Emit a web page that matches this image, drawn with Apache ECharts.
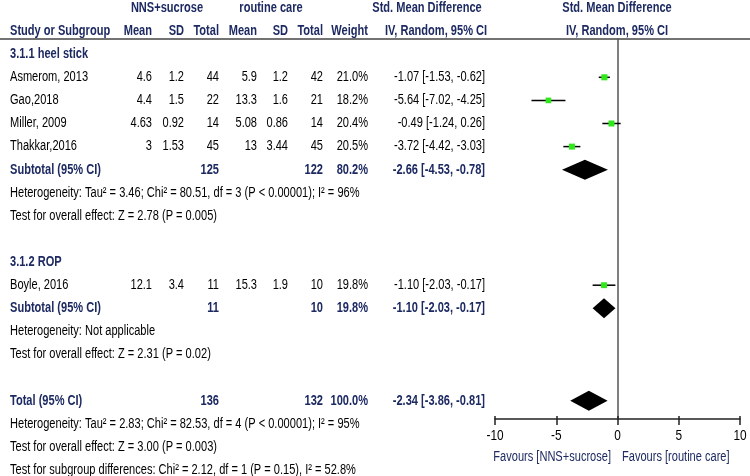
<!DOCTYPE html>
<html><head><meta charset="utf-8">
<script src="https://cdn.jsdelivr.net/npm/echarts@6/dist/echarts.min.js"></script>
<style>html,body{margin:0;padding:0;background:#fff}#c{width:750px;height:476px}</style>
</head><body><div id="c"></div>
<script>
// ---------- data ----------
const studies   = ['Asmerom, 2013', 'Gao,2018', 'Miller, 2009', 'Thakkar,2016', 'Boyle, 2016'];
const nnsMean   = [4.6, 4.4, 4.63, 3, 12.1];
const nnsSD     = [1.2, 1.5, 0.92, 1.53, 3.4];
const nnsN      = [44, 22, 14, 45, 11];
const rcMean    = [5.9, 13.3, 5.08, 13, 15.3];
const rcSD      = [1.2, 1.6, 0.86, 3.44, 1.9];
const rcN       = [42, 21, 14, 45, 10];
const weights   = [21.0, 18.2, 20.4, 20.5, 19.8];
const smd       = [-1.07, -5.64, -0.49, -3.72, -1.10];
const ciLow     = [-1.53, -7.02, -1.24, -4.42, -2.03];
const ciHigh    = [-0.62, -4.25, 0.26, -3.03, -0.17];

const pooledLabels = ['Subtotal (95% CI)', 'Subtotal (95% CI)', 'Total (95% CI)'];
const pooledN1     = [125, 11, 136];
const pooledN2     = [122, 10, 132];
const pooledWeight = [80.2, 19.8, 100.0];
const pooledEst    = [-2.66, -1.10, -2.34];
const pooledLow    = [-4.53, -2.03, -3.86];
const pooledHigh   = [-0.78, -0.17, -0.81];

const subgroupNames = ['3.1.1 heel stick', '3.1.2 ROP'];
const statLines = [
  'Heterogeneity: Tau\u00b2 = 3.46; Chi\u00b2 = 80.51, df = 3 (P < 0.00001); I\u00b2 = 96%',
  'Test for overall effect: Z = 2.78 (P = 0.005)',
  'Heterogeneity: Not applicable',
  'Test for overall effect: Z = 2.31 (P = 0.02)',
  'Heterogeneity: Tau\u00b2 = 2.83; Chi\u00b2 = 82.53, df = 4 (P < 0.00001); I\u00b2 = 95%',
  'Test for overall effect: Z = 3.00 (P = 0.003)',
  'Test for subgroup differences: Chi\u00b2 = 2.12, df = 1 (P = 0.15), I\u00b2 = 52.8%'
];
const xTicks = [-10, -5, 0, 5, 10];
const favourLeft = 'Favours [NNS+sucrose]';
const favourRight = 'Favours [routine care]';

// ---------- layout ----------
const W = 750, H = 476;
const ROW0 = 8, PITCH = 23.1;
const studyRows = [3, 4, 5, 6, 12];
const pooledRows = [7, 13, 17];
const headingRows = [2, 11];
const statRows = [8, 9, 14, 15, 18, 19, 20];
const PLOT_TOP = 39, PLOT_AXIS = 419, PLOT_L = 495, PLOT_R = 740;
const COL = {name: 10, m1: 152, sd1: 184, n1: 219, m2: 257, sd2: 288, n2: 323, w: 368, ci: 485};
const NAVY = '#1d2a62';
const FAMILY = '"Liberation Sans", Arial, sans-serif';
const FSIZE = 14, NARROW = 0.79;

const texts = [];
function T(x, row, t, align, bold, color) {
  texts.push({value: [x, row], t: t, align: align, bold: !!bold, color: color || '#000'});
}
// header
T(167, 0, 'NNS+sucrose', 'center', 1, NAVY);
T(271, 0, 'routine care', 'center', 1, NAVY);
T(427, 0, 'Std. Mean Difference', 'center', 1, NAVY);
T(617, 0, 'Std. Mean Difference', 'center', 1, NAVY);
T(COL.name, 1, 'Study or Subgroup', 'left', 1, NAVY);
T(COL.m1, 1, 'Mean', 'right', 1, NAVY);
T(COL.sd1, 1, 'SD', 'right', 1, NAVY);
T(COL.n1, 1, 'Total', 'right', 1, NAVY);
T(COL.m2, 1, 'Mean', 'right', 1, NAVY);
T(COL.sd2, 1, 'SD', 'right', 1, NAVY);
T(COL.n2, 1, 'Total', 'right', 1, NAVY);
T(COL.w, 1, 'Weight', 'right', 1, NAVY);
T(436, 1, 'IV, Random, 95% CI', 'center', 1, NAVY);
T(617, 1, 'IV, Random, 95% CI', 'center', 1, NAVY);
headingRows.forEach((r, i) => T(COL.name, r, subgroupNames[i], 'left', 1, NAVY));
const ciText = (e, l, h) => `${e.toFixed(2)} [${l.toFixed(2)}, ${h.toFixed(2)}]`;
studies.forEach((s, i) => {
  const r = studyRows[i];
  T(COL.name, r, s, 'left');
  T(COL.m1, r, String(nnsMean[i]), 'right');
  T(COL.sd1, r, String(nnsSD[i]), 'right');
  T(COL.n1, r, String(nnsN[i]), 'right');
  T(COL.m2, r, String(rcMean[i]), 'right');
  T(COL.sd2, r, String(rcSD[i]), 'right');
  T(COL.n2, r, String(rcN[i]), 'right');
  T(COL.w, r, weights[i].toFixed(1) + '%', 'right');
  T(COL.ci, r, ciText(smd[i], ciLow[i], ciHigh[i]), 'right');
});
pooledRows.forEach((r, i) => {
  T(COL.name, r, pooledLabels[i], 'left', 1, NAVY);
  T(COL.n1, r, String(pooledN1[i]), 'right', 1, NAVY);
  T(COL.n2, r, String(pooledN2[i]), 'right', 1, NAVY);
  T(COL.w, r, pooledWeight[i].toFixed(1) + '%', 'right', 1, NAVY);
  T(COL.ci, r, ciText(pooledEst[i], pooledLow[i], pooledHigh[i]), 'right', 1, NAVY);
});
statRows.forEach((r, i) => T(COL.name, r, statLines[i], 'left'));
const favRow = (457 - ROW0) / PITCH;
T(611, favRow, favourLeft, 'right', 0, NAVY);
T(622, favRow, favourRight, 'left', 0, NAVY);
const tickRow = (436 - ROW0) / PITCH;

const studyData = studies.map((s, i) => [ciLow[i], ciHigh[i], studyRows[i], smd[i], weights[i]]);
const pooledData = pooledRows.map((r, i) => [pooledLow[i], pooledHigh[i], r, pooledEst[i]]);
const tickData = xTicks.map(v => ({value: [v, tickRow], t: String(v), align: 'center', bold: false, color: '#000'}));

function makeText(p, d, size) {
  return {type: 'text', x: p[0], y: p[1], scaleX: NARROW, scaleY: 1,
          style: {text: d.t, fill: d.color, align: d.align, verticalAlign: 'middle',
                  font: (d.bold ? 'bold ' : '') + (size || FSIZE) + 'px ' + FAMILY}};
}

const chart = echarts.init(document.getElementById('c'), null, {renderer: 'canvas'});
chart.setOption({
  animation: false,
  backgroundColor: '#fff',
  grid: [
    {left: PLOT_L, right: W - PLOT_R, top: PLOT_TOP, bottom: H - PLOT_AXIS, containLabel: false},
    {left: 0, right: 0, top: 0, bottom: 0, containLabel: false}
  ],
  xAxis: [
    {gridIndex: 0, type: 'value', min: -10, max: 10, interval: 5, position: 'bottom',
     axisLine: {show: true, onZero: false, lineStyle: {color: '#222', width: 1.5}},
     axisTick: {show: true, inside: false, length: 6, lineStyle: {color: '#222', width: 1.5}},
     axisLabel: {show: false}, splitLine: {show: false}},
    {gridIndex: 1, type: 'value', min: 0, max: W, show: false},
    {gridIndex: 0, type: 'value', min: -10, max: 10, interval: 5, position: 'bottom',
     axisLine: {show: false, onZero: false},
     axisTick: {show: true, inside: true, length: 3, lineStyle: {color: '#222', width: 1.5}},
     axisLabel: {show: false}, splitLine: {show: false}},
    {gridIndex: 1, type: 'value', min: -10 - (PLOT_L) / ((PLOT_R - PLOT_L) / 20),
     max: 10 + (W - PLOT_R) / ((PLOT_R - PLOT_L) / 20), show: false}
  ],
  yAxis: [
    {gridIndex: 0, type: 'value', inverse: true,
     min: (PLOT_TOP - ROW0) / PITCH, max: (PLOT_AXIS - ROW0) / PITCH,
     axisLine: {show: true, onZero: true, lineStyle: {color: '#555', width: 1.5}},
     axisTick: {show: false}, axisLabel: {show: false}, splitLine: {show: false}},
    {gridIndex: 1, type: 'value', inverse: true, min: -ROW0 / PITCH, max: (H - ROW0) / PITCH, show: false}
  ],
  graphic: [
    {type: 'line', shape: {x1: 0, y1: PLOT_TOP, x2: W, y2: PLOT_TOP},
     style: {stroke: '#444', lineWidth: 1.5}, silent: true}
  ],
  series: [
    {type: 'custom', xAxisIndex: 0, yAxisIndex: 0, data: studyData, silent: true,
     renderItem: (params, api) => {
       const a = api.coord([api.value(0), api.value(2)]);
       const b = api.coord([api.value(1), api.value(2)]);
       const c = api.coord([api.value(3), api.value(2)]);
       const s = 6 * Math.sqrt(api.value(4) / 20.5);
       return {type: 'group', children: [
         {type: 'line', shape: {x1: a[0], y1: a[1], x2: b[0], y2: b[1]}, style: {stroke: '#000', lineWidth: 1.5}},
         {type: 'rect', shape: {x: c[0] - s / 2, y: c[1] - s / 2, width: s, height: s}, style: {fill: '#2ee81a'}}
       ]};
     }},
    {type: 'custom', xAxisIndex: 0, yAxisIndex: 0, data: pooledData, silent: true,
     renderItem: (params, api) => {
       const a = api.coord([api.value(0), api.value(2)]);
       const b = api.coord([api.value(1), api.value(2)]);
       const c = api.coord([api.value(3), api.value(2)]);
       const h = 10;
       return {type: 'polygon', shape: {points: [[a[0], a[1]], [c[0], c[1] - h], [b[0], b[1]], [c[0], c[1] + h]]},
               style: {fill: '#000'}};
     }},
    {type: 'custom', xAxisIndex: 1, yAxisIndex: 1, data: texts, silent: true, clip: false,
     renderItem: (params, api) => makeText(api.coord([api.value(0), api.value(1)]), texts[params.dataIndex])},
    {type: 'custom', xAxisIndex: 3, yAxisIndex: 1, data: tickData, silent: true, clip: false,
     renderItem: (params, api) => makeText(api.coord([api.value(0), api.value(1)]), tickData[params.dataIndex], 15)}
  ]
});
</script>
</body></html>
